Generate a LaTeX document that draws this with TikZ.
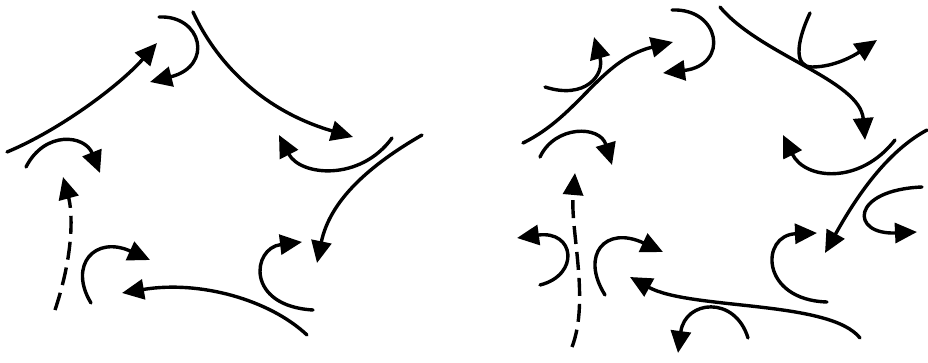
\documentclass[tikz,border=0pt]{standalone}
\usetikzlibrary{arrows.meta}
\begin{document}
\begin{tikzpicture}[x=1pt,y=-1pt,
  curve/.style={line width=3.4pt,line cap=round},
  arr/.style={curve,-{Triangle[length=22pt,width=20pt]}},
  dsh/.style={arr,dash pattern=on 18pt off 8pt,line cap=butt}]
\fill[white] (0,0) rectangle (928,363);
\useasboundingbox (0,0) rectangle (928,363);
% ---------------- left panel ----------------
\coordinate (a1s) at (7,152);   \coordinate (a1e) at (157,43);
\coordinate (a2s) at (159,17);  \coordinate (a2e) at (150,82);
\coordinate (a3s) at (193,12);  \coordinate (a3e) at (353,137);
\coordinate (a4s) at (392,138); \coordinate (a4e) at (279,135);
\coordinate (a5s) at (422,135); \coordinate (a5e) at (317,263);
\coordinate (a6s) at (313,310); \coordinate (a6e) at (302,242);
\coordinate (a7s) at (307,335); \coordinate (a7e) at (122,293);
\coordinate (a8s) at (91,303);  \coordinate (a8e) at (150,260);
\coordinate (a9s) at (55,310);  \coordinate (a9e) at (63,177);
\coordinate (a10s) at (26,167); \coordinate (a10e) at (100,173);
\draw[arr] (a1s) .. controls (60,130) and (120,85) .. (a1e);
\draw[arr] (a2s) .. controls (202,15) and (214,66) .. (a2e);
\draw[arr] (a3s) .. controls (215,60) and (260,110) .. (a3e);
\draw[arr] (a4s) .. controls (360,182) and (300,176) .. (a4e);
\draw[arr] (a5s) .. controls (370,165) and (330,200) .. (a5e);
\draw[arr] (a6s) .. controls (245,306) and (252,248) .. (a6e);
\draw[arr] (a7s) .. controls (270,300) and (200,280) .. (a7e);
\draw[arr] (a8s) .. controls (68,265) and (95,235) .. (a8e);
\draw[dsh] (a9s) .. controls (75,250) and (72,210) .. (a9e);
\draw[arr] (a10s) .. controls (45,130) and (85,135) .. (a10e);
% ---------------- right panel ----------------
\coordinate (b1s) at (523,143); \coordinate (b1e) at (673,42);
\coordinate (b2s) at (672,10);  \coordinate (b2e) at (663,73);
\coordinate (b3s) at (545,87);  \coordinate (b3e) at (594,37);
\coordinate (b4s) at (720,7);   \coordinate (b4e) at (865,140);
\coordinate (b5s) at (810,13);  \coordinate (b5m) at (812,67); \coordinate (b5e) at (877,40);
\coordinate (b6s) at (895,140); \coordinate (b6e) at (783,135);
\coordinate (b7s) at (927,130); \coordinate (b7e) at (825,253);
\coordinate (b8s) at (922,187); \coordinate (b8e) at (917,232);
\coordinate (b9s) at (827,302); \coordinate (b9e) at (817,233);
\coordinate (b10s) at (860,338); \coordinate (b10e) at (630,277);
\coordinate (b11s) at (748,338); \coordinate (b11e) at (678,353);
\coordinate (b12s) at (540,157); \coordinate (b12e) at (612,165);
\coordinate (b13s) at (572,347); \coordinate (b13e) at (575,173);
\coordinate (b14s) at (540,285); \coordinate (b14e) at (517,238);
\coordinate (b15s) at (605,295); \coordinate (b15e) at (663,252);
\draw[arr] (b1s) .. controls (580,115) and (600,60) .. (b1e);
\draw[arr] (b2s) .. controls (720,8) and (730,65) .. (b2e);
\draw[arr] (b3s) .. controls (585,100) and (605,75) .. (b3e);
\draw[arr] (b4s) .. controls (760,55) and (860,80) .. (b4e);
\draw[arr] (b5s) .. controls (795,45) and (795,67) .. (b5m) .. controls (835,67) and (855,55) .. (b5e);
\draw[arr] (b6s) .. controls (860,185) and (805,180) .. (b6e);
\draw[arr] (b7s) .. controls (890,150) and (860,190) .. (b7e);
\draw[arr] (b8s) .. controls (850,190) and (850,235) .. (b8e);
\draw[arr] (b9s) .. controls (760,300) and (760,235) .. (b9e);
\draw[arr] (b10s) .. controls (830,300) and (690,310) .. (b10e);
\draw[arr] (b11s) .. controls (735,295) and (685,300) .. (b11e);
\draw[arr] (b12s) .. controls (555,125) and (600,125) .. (b12e);
\draw[dsh] (b13s) .. controls (590,300) and (570,230) .. (b13e);
\draw[arr] (b14s) .. controls (580,275) and (575,230) .. (b14e);
\draw[arr] (b15s) .. controls (580,255) and (605,225) .. (b15e);
\end{tikzpicture}
\end{document}
